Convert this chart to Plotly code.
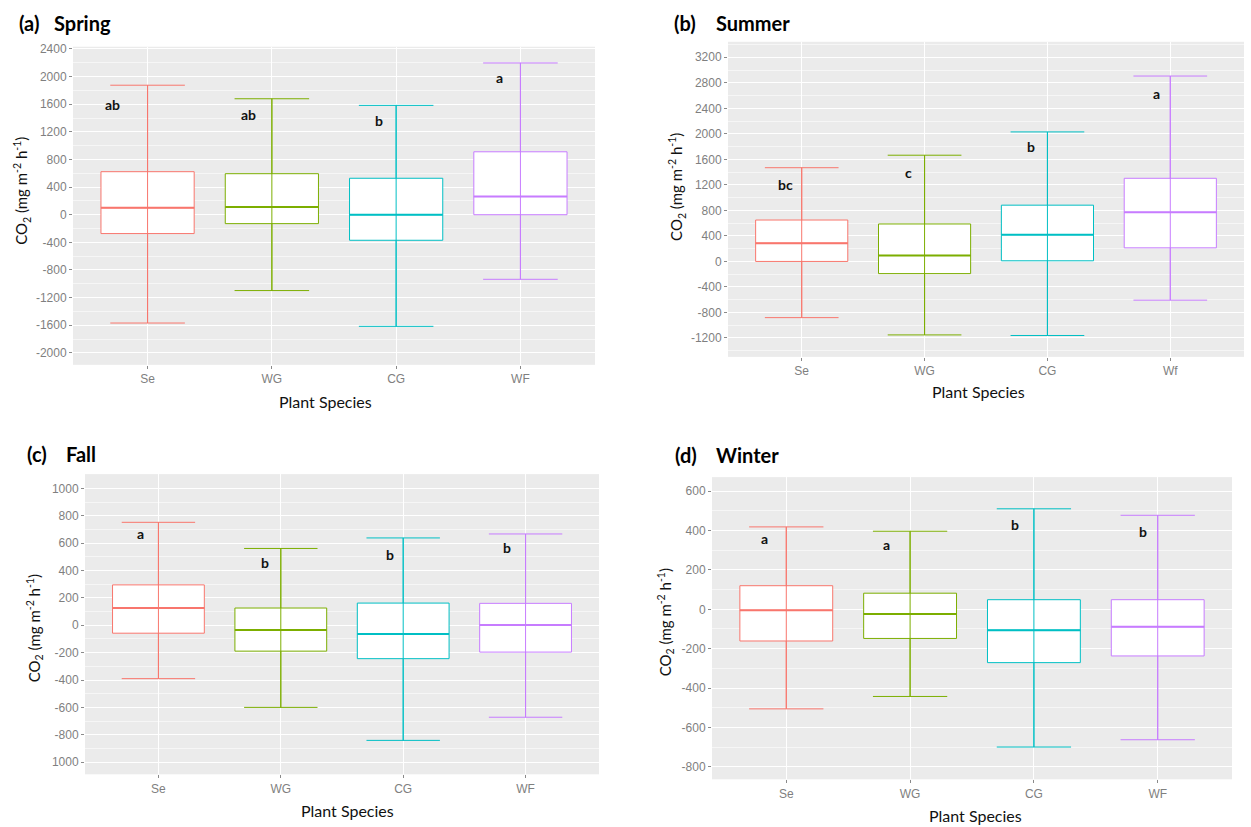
import plotly.graph_objects as go

W, H = 1251, 827
colors = ["#F8766D", "#7CAE00", "#00BFC4", "#C77CFF"]

species = ["Se", "WG", "CG", "WF"]
species_summer = ["Se", "WG", "CG", "Wf"]

# ---- Spring ----
spring_upper = [1875, 1679, 1583, 2197]
spring_q3 = [623, 594, 528, 911]
spring_median = [100, 111, 0, 263]
spring_q1 = [-273, -129, -370, 0]
spring_lower = [-1568, -1098, -1616, -935]
spring_letters = ["ab", "ab", "b", "a"]
spring_letter_y = [1597, 1453, 1371, 1981]
spring_ticks = [-2000, -1600, -1200, -800, -400, 0, 400, 800, 1200, 1600, 2000, 2400]
spring_ticktext = [str(t) for t in spring_ticks]

# ---- Summer ----
summer_upper = [1469, 1665, 2030, 2906]
summer_q3 = [649, 587, 882, 1303]
summer_median = [286, 93, 420, 769]
summer_q1 = [0, -191, 10, 213]
summer_lower = [-881, -1152, -1161, -607]
summer_letters = ["bc", "c", "b", "a"]
summer_letter_y = [1209, 1391, 1805, 2626]
summer_ticks = [-1200, -800, -400, 0, 400, 800, 1200, 1600, 2000, 2400, 2800, 3200]
summer_ticktext = [str(t) for t in summer_ticks]

# ---- Fall ----
fall_upper = [752, 561, 638, 667]
fall_q3 = [295, 126, 162, 160]
fall_median = [126, -34, -63, 2]
fall_q1 = [-58, -189, -244, -196]
fall_lower = [-390, -600, -841, -672]
fall_letters = ["a", "b", "b", "b"]
fall_letter_y = [667, 462, 517, 571]
fall_ticks = [-1000, -800, -600, -400, -200, 0, 200, 400, 600, 800, 1000]
fall_ticktext = ["1000", "-800", "-600", "-400", "-200", "0", "200", "400", "600", "800", "1000"]

# ---- Winter ----
winter_upper = [419, 397, 511, 478]
winter_q3 = [120, 82, 49, 49]
winter_median = [-5, -24, -106, -89]
winter_q1 = [-161, -148, -271, -237]
winter_lower = [-506, -443, -700, -663]
winter_letters = ["a", "a", "b", "b"]
winter_letter_y = [360, 330, 430, 397]
winter_ticks = [-800, -600, -400, -200, 0, 200, 400, 600]
winter_ticktext = [str(t) for t in winter_ticks]


def xp(px):
    return px / W


def yp(py):
    return 1 - py / H


panels = [
    dict(tag="(a)", name="Spring", cats=species, up=spring_upper, q3=spring_q3, med=spring_median,
         q1=spring_q1, lo=spring_lower, letters=spring_letters, ly=spring_letter_y,
         lx=[-0.28, -0.19, -0.14, -0.17], ticks=spring_ticks, ticktext=spring_ticktext,
         box=(73, 595, 42, 362), yrange=[-2173, 2432],
         title_xy=(17, 52, 18), ytitle_xy=(22, 187), xtitle_xy=(325, 399)),
    dict(tag="(b)", name="Summer", cats=species_summer, up=summer_upper, q3=summer_q3, med=summer_median,
         q1=summer_q1, lo=summer_lower, letters=summer_letters, ly=summer_letter_y,
         lx=[-0.13, -0.13, -0.135, -0.11], ticks=summer_ticks, ticktext=summer_ticktext,
         box=(728, 1244, 37, 354), yrange=[-1496, 3443],
         title_xy=(672, 714, 18), ytitle_xy=(677, 183), xtitle_xy=(978, 389)),
    dict(tag="(c)", name="Fall", cats=species, up=fall_upper, q3=fall_q3, med=fall_median,
         q1=fall_q1, lo=fall_lower, letters=fall_letters, ly=fall_letter_y,
         lx=[-0.15, -0.13, -0.11, -0.15], ticks=fall_ticks, ticktext=fall_ticktext,
         box=(85, 599, 472, 774), yrange=[-1089, 1104],
         title_xy=(25, 64, 452), ytitle_xy=(34, 627), xtitle_xy=(347, 810)),
    dict(tag="(d)", name="Winter", cats=species, up=winter_upper, q3=winter_q3, med=winter_median,
         q1=winter_q1, lo=winter_lower, letters=winter_letters, ly=winter_letter_y,
         lx=[-0.18, -0.19, -0.15, -0.12], ticks=winter_ticks, ticktext=winter_ticktext,
         box=(712, 1232, 475, 779), yrange=[-864, 672],
         title_xy=(673, 714, 453), ytitle_xy=(665, 621), xtitle_xy=(975, 815)),
]

fig = go.Figure()
annotations = []
tickfont = dict(family="Liberation Sans, Arial, sans-serif", size=12, color="#7f7f7f")
BOXW = 0.75

for k, p in enumerate(panels, start=1):
    xa = "x" if k == 1 else f"x{k}"
    ya = "y" if k == 1 else f"y{k}"
    for i in range(4):
        c = colors[i]
        fig.add_trace(go.Box(
            x=[i], q1=[p["q1"][i]], median=[p["med"][i]], q3=[p["q3"][i]],
            lowerfence=[p["lo"][i]], upperfence=[p["up"][i]],
            width=BOXW, whiskerwidth=0.8, fillcolor="white",
            line=dict(color=c, width=1), boxpoints=False,
            xaxis=xa, yaxis=ya, showlegend=False, hoverinfo="skip"))
        # whisker line running through the box
        fig.add_trace(go.Scatter(
            x=[i, i], y=[p["lo"][i], p["up"][i]], mode="lines",
            line=dict(color=c, width=1), xaxis=xa, yaxis=ya,
            showlegend=False, hoverinfo="skip"))
        # thicker median line
        fig.add_trace(go.Scatter(
            x=[i - BOXW / 2, i + BOXW / 2], y=[p["med"][i], p["med"][i]], mode="lines",
            line=dict(color=c, width=2), xaxis=xa, yaxis=ya,
            showlegend=False, hoverinfo="skip"))
        annotations.append(dict(
            x=i + p["lx"][i], y=p["ly"][i], xref=xa, yref=ya, text=f"<b>{p['letters'][i]}</b>",
            showarrow=False, font=dict(family="Lato", size=14, color="#111111"),
            xanchor="center", yanchor="middle"))

    l, r, t, b = p["box"]
    ticks = p["ticks"]
    step = ticks[1] - ticks[0]
    minor_vals = [ticks[0] - step / 2] + [(ticks[j] + ticks[j + 1]) / 2 for j in range(len(ticks) - 1)] \
        + [ticks[-1] + step / 2]
    fig.layout[f"xaxis{'' if k == 1 else k}"] = dict(
        domain=[xp(l), xp(r)], range=[-0.6, 3.6], anchor=ya,
        tickmode="array", tickvals=[0, 1, 2, 3], ticktext=p["cats"],
        showgrid=True, gridcolor="white", gridwidth=1.2, zeroline=False, showline=False,
        ticks="outside", ticklen=3, tickcolor="#8a8a8a", tickfont=tickfont, fixedrange=True)
    fig.layout[f"yaxis{'' if k == 1 else k}"] = dict(
        domain=[yp(b), yp(t)], range=p["yrange"], anchor=xa,
        tickmode="array", tickvals=ticks, ticktext=p["ticktext"],
        showgrid=True, gridcolor="white", gridwidth=1.2, zeroline=False, showline=False,
        ticks="outside", ticklen=3, tickcolor="#8a8a8a", tickfont=tickfont,
        minor=dict(tickvals=minor_vals, showgrid=True, gridcolor="#f6f6f6", gridwidth=0.7),
        fixedrange=True)

    tx1, tx2, ty = p["title_xy"]
    annotations.append(dict(x=xp(tx1), y=yp(ty), xref="paper", yref="paper", text=f"<b>{p['tag']}</b>",
                            showarrow=False, xanchor="left", yanchor="middle",
                            font=dict(family="Lato", size=20, color="black")))
    annotations.append(dict(x=xp(tx2), y=yp(ty), xref="paper", yref="paper", text=f"<b>{p['name']}</b>",
                            showarrow=False, xanchor="left", yanchor="middle",
                            font=dict(family="Lato", size=20, color="black")))
    yx, yy = p["ytitle_xy"]
    annotations.append(dict(x=xp(yx), y=yp(yy), xref="paper", yref="paper",
                            text="CO<sub>2</sub> (mg m<sup>-2</sup> h<sup>-1</sup>)",
                            textangle=-90, showarrow=False, xanchor="center", yanchor="middle",
                            font=dict(family="Lato", size=15, color="#111111")))
    xx, xy = p["xtitle_xy"]
    annotations.append(dict(x=xp(xx), y=yp(xy), xref="paper", yref="paper", text="Plant Species",
                            showarrow=False, xanchor="center", yanchor="middle",
                            font=dict(family="Lato", size=16, color="#111111")))

fig.update_layout(
    width=W, height=H, margin=dict(l=0, r=0, t=0, b=0),
    paper_bgcolor="white", plot_bgcolor="#EBEBEB",
    boxmode="overlay", showlegend=False, annotations=annotations,
    font=dict(family="Lato"))

fig.write_html("out.html")
